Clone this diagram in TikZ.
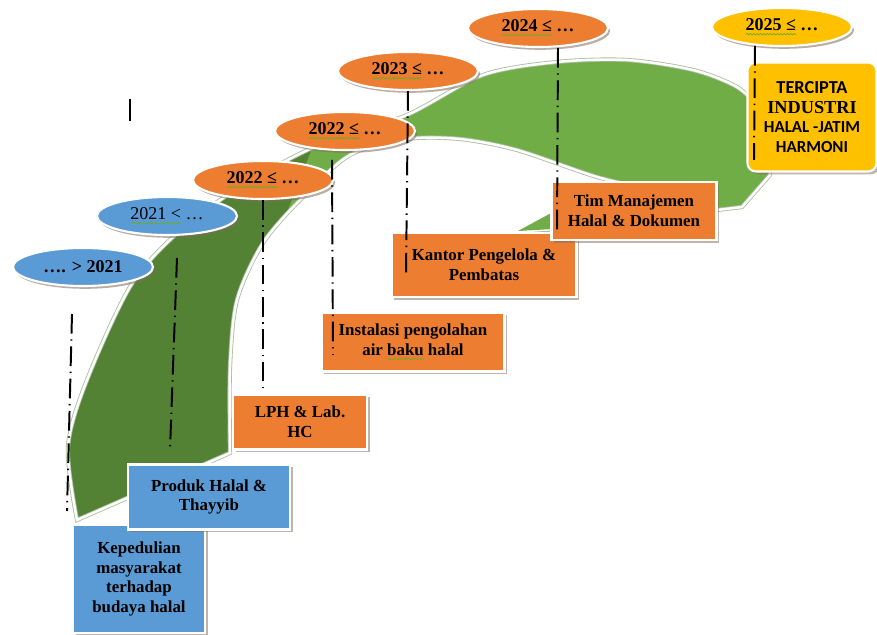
\documentclass[tikz,border=0pt]{standalone}
\usepackage{fontspec}
\setmainfont{Liberation Serif}
\newfontfamily\calibri{Carlito}
\usetikzlibrary{shapes}
\usetikzlibrary{shadows}
\usetikzlibrary{decorations.pathmorphing}

\definecolor{yrblue}{HTML}{5B9BD5}
\definecolor{yrorange}{HTML}{ED7D31}
\definecolor{yrgold}{HTML}{FFC000}
\definecolor{bandDark}{HTML}{548235}
\definecolor{bandLight}{HTML}{70AD47}
\definecolor{bandEdge}{HTML}{A9BFA0}
\definecolor{shadowBrown}{HTML}{7F6A5E}
\definecolor{spellGreen}{HTML}{6DAA2C}

% wavy spell-check underline
\newcommand\spell[1]{\setbox0=\hbox{#1}\rlap{\tikz[baseline=0pt]\draw[draw=spellGreen, fill=none, line width=0.5pt,
  decorate, decoration={snake, amplitude=0.55pt, segment length=2.4pt}] (0pt,-2.6pt) -- (\wd0,-2.6pt);}\box0\relax}

% the road band, outer rim then inner rim
\newcommand\bandpath{plot[smooth] coordinates {(77,520) (68,447) (87,380) (133,282) (190,222) (260,175) (330,140) (407,115) (483,75) (557,62) (627,60) (693,70) (737,87) (762,110)}
  -- (770,175) -- (742,207)
  -- plot[smooth] coordinates {(717,210) (660,192) (597,177) (517,150) (460,139) (407,139) (350,155) (303,197) (263,243) (237,300) (230,367) (230,453)}
  -- cycle}

\tikzset{
  yr/.style={ellipse, draw=white, line width=1.5pt, minimum width=3.5cm, minimum height=0.95cm, inner sep=0pt,
    font=\fontsize{12.8}{14}\selectfont\bfseries,
    drop shadow={shadow xshift=1.5pt, shadow yshift=-2pt, fill=shadowBrown, opacity=0.55}},
  taskbox/.style={rectangle, draw=white, line width=1.5pt, inner sep=2pt, align=center,
    font=\fontsize{12}{14}\selectfont\bfseries,
    drop shadow={shadow xshift=2pt, shadow yshift=-2pt, fill=shadowBrown, opacity=0.5}},
  dropline/.style={line width=1.4pt, dash pattern=on 14pt off 4pt on 1pt off 4pt}
}

\begin{document}
\begin{tikzpicture}[x=0.025cm, y=-0.025cm]
\useasboundingbox (0,0) rectangle (877,635);

% green band
\fill[bandDark] \bandpath;
\begin{scope}
\clip (280,230) -- (335,90) -- (900,-10) -- (900,300) -- cycle;
\fill[bandLight] \bandpath;
\end{scope}
\fill[bandLight] (518,231) -- (553,212) -- (553,229) -- cycle;
\draw[bandEdge, line width=1pt] (515,234) -- (553,231);
\draw[bandEdge, line width=3pt] \bandpath;
\draw[white, line width=1.8pt] \bandpath;

\draw[line width=1.2pt] (130,99) -- (130,121);

% years
\node[yr, fill=yrblue] (y20) at (83,267) {…. > 2021};
\node[yr, fill=yrblue, font=\fontsize{12.8}{14}\selectfont] (y21) at (167,216) {\spell{2021 <} …};
\node[yr, fill=yrorange] (y22a) at (263,180) {\spell{2022 ≤} …};
\node[yr, fill=yrorange] (y22b) at (345,131) {\spell{2022 ≤} …};
\node[yr, fill=yrorange] (y23) at (408,71) {\spell{2023 ≤} …};
\node[yr, fill=yrorange] (y24) at (538,28) {\spell{2024 ≤} …};
\node[yr, fill=yrgold] (y25) at (782,27) {\spell{2025 ≤} …};

% steps
\node[taskbox, fill=yrblue, minimum width=3.3cm, minimum height=2.7cm] (peduli) at (139,579) {Kepedulian\\masyarakat\\terhadap\\budaya halal};
\node[taskbox, fill=yrblue, minimum width=4.05cm, minimum height=1.625cm] (produk) at (209,497) {Produk Halal \&\\Thayyib};
\node[taskbox, fill=yrorange, minimum width=3.35cm, minimum height=1.375cm] (lph) at (300,422) {LPH \& Lab.\\HC};
\node[taskbox, fill=yrorange, minimum width=4.575cm, minimum height=1.475cm] (ipal) at (413,342) {Instalasi pengolahan\\air \spell{baku} halal};
\node[taskbox, fill=yrorange, minimum width=4.625cm, minimum height=1.6cm] (kantor) at (484,265) {Kantor Pengelola \&\\Pembatas};
\node[taskbox, fill=yrorange, minimum width=4.125cm, minimum height=1.45cm] (tim) at (634,211) {Tim Manajemen\\Halal \& Dokumen};
\node[taskbox, fill=yrgold, rounded corners=6pt, minimum width=3.225cm, minimum height=2.725cm] (goal) at (812,117)
  {{\calibri\bfseries\fontsize{13}{15}\selectfont TERCIPTA}\\{\fontsize{13}{16}\selectfont INDUSTRI}\\{\calibri\bfseries HALAL -JATIM}\\{\calibri\bfseries HARMONI}};

% drop lines
\coordinate (l1a) at (72,314);
\coordinate (l1b) at (67,511);
\coordinate (l2a) at (177,258);
\coordinate (l2b) at (170,450);
\coordinate (l4a) at (332,160);
\coordinate (l4b) at (333,355);
\coordinate (l5b) at (406,276);
\coordinate (l6a) at (558,48);
\coordinate (l6b) at (557,234);
\coordinate (l7a) at (755,46);
\coordinate (l7b) at (754,160);
\draw[dropline] (l1a) -- (l1b);
\draw[dropline] (l2a) -- (l2b);
\draw[dropline] (y22a.south) -- (y22a.south |- lph.north);
\draw[dropline] (l4a) -- (l4b);
\draw[dropline] (y23.south) -- (l5b);
\draw[dropline] (l6a) -- (l6b);
\draw[dropline] (l7a) -- (l7b);
\end{tikzpicture}
\end{document}
